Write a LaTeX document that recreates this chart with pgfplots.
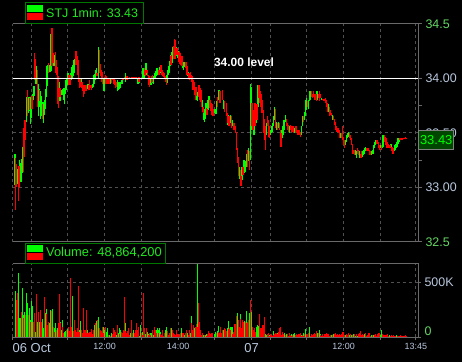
\documentclass[border=0pt]{standalone}
\usepackage{pgfplots}
\pgfplotsset{compat=1.18}
\usepackage{pgfplotstable}
\usepackage{fontspec}
\setmainfont{Liberation Sans}
\definecolor{upg}{RGB}{0,255,0}
\definecolor{dnr}{RGB}{255,0,0}
\definecolor{gridc}{RGB}{80,80,80}
\definecolor{framec}{RGB}{105,105,105}
\definecolor{lblc}{RGB}{185,200,222}
\definecolor{lgrn}{RGB}{100,215,100}
\definecolor{legtxt}{RGB}{30,235,30}
\definecolor{legbrd}{RGB}{0,120,0}
\definecolor{pbox}{RGB}{0,70,0}

% ---------- price bars: minute, low, high ----------
\pgfplotstableread{
m l h
3.8 33.02 33.31
7.8 33.03 33.17
11.3 33.02 33.25
12.4 33.08 33.22
13.5 33.05 33.21
14.6 33.10 33.26
15.7 33.13 33.37
16.8 33.18 33.36
21.1 33.46 33.60
22.2 33.60 33.70
22.7 33.65 33.83
24.9 33.68 33.80
25.9 33.68 33.83
28.1 33.70 33.83
29.2 33.58 33.77
30.2 33.64 33.79
32.4 33.72 33.86
33.5 33.80 33.92
34.6 33.84 33.93
37.8 33.95 34.11
38.9 33.96 34.08
40.0 33.90 34.05
42.1 33.65 33.95
44.3 33.74 33.90
45.4 33.63 33.88
46.5 33.68 33.84
47.6 33.65 33.78
49.7 33.65 33.75
50.8 33.59 33.78
51.9 33.66 33.80
53.0 33.72 33.83
54.1 33.78 33.90
55.1 33.83 34.11
56.2 33.93 34.05
57.3 34.02 34.12
59.5 34.06 34.12
60.5 34.06 34.10
61.6 34.06 34.11
62.7 34.07 34.41
63.8 34.10 34.36
65.4 34.12 34.20
67.6 34.11 34.21
68.6 34.12 34.19
70.8 34.08 34.15
76.2 33.79 33.97
78.4 33.79 33.91
79.5 33.85 33.89
80.6 33.85 33.89
81.7 33.86 33.90
82.7 33.85 33.89
83.8 33.80 33.91
84.9 33.76 33.91
86.0 33.86 33.93
87.1 33.89 33.98
88.2 33.91 34.00
89.2 33.94 34.03
90.3 33.94 34.05
92.5 33.95 34.03
94.6 33.97 34.05
95.7 33.98 34.08
96.8 34.00 34.10
97.9 34.02 34.12
98.9 34.02 34.14
100.0 34.05 34.17
101.1 34.08 34.18
111.9 33.94 34.00
121.6 33.90 33.94
122.7 33.91 33.95
129.2 33.91 33.94
130.3 33.91 33.95
131.4 33.93 33.96
132.4 33.92 34.03
133.5 33.95 34.04
134.6 33.98 34.07
135.7 34.01 34.08
136.8 34.03 34.09
140.0 34.00 34.03
140.5 34.00 34.29
148.1 33.94 34.00
149.2 33.88 34.00
150.3 33.93 33.99
153.5 33.96 33.99
154.6 33.95 34.00
158.9 33.96 34.00
160.0 33.95 34.00
170.5 33.88 33.98
171.6 33.88 33.95
172.6 33.89 33.94
173.7 33.90 33.97
175.0 33.91 33.95
175.9 33.93 33.97
177.5 33.95 33.98
179.0 33.95 33.98
184.5 33.97 34.05
204.5 33.95 34.00
207.2 33.96 34.00
211.6 34.00 34.09
213.0 34.03 34.09
214.3 34.00 34.06
217.5 34.03 34.14
224.6 33.94 34.00
225.6 33.94 34.00
229.0 33.96 34.02
230.0 33.95 34.02
231.0 33.99 34.04
232.1 34.00 34.05
233.2 34.01 34.07
234.3 34.02 34.08
235.4 34.03 34.09
236.4 34.05 34.09
239.7 34.05 34.10
240.8 34.05 34.11
251.6 33.96 34.03
253.2 34.00 34.08
254.3 34.03 34.09
255.3 34.05 34.11
256.4 34.08 34.16
257.5 34.11 34.21
260.2 34.14 34.24
261.3 34.17 34.29
266.7 34.20 34.29
269.4 34.19 34.25
270.5 34.17 34.25
277.5 34.09 34.15
278.6 34.08 34.15
279.7 34.10 34.15
280.7 34.11 34.15
285.6 34.02 34.06
286.7 34.00 34.06
301.0 33.80 33.87
301.8 33.79 33.86
308.8 33.74 33.80
309.9 33.69 33.77
312.4 33.62 33.72
313.2 33.60 33.72
314.3 33.63 33.75
315.3 33.66 33.77
318.6 33.71 33.80
319.7 33.71 33.80
320.5 33.77 33.84
321.3 33.77 33.83
329.0 33.68 33.72
329.9 33.68 33.72
330.8 33.67 33.72
331.6 33.67 33.72
332.7 33.71 33.79
336.5 33.80 33.89
339.7 33.79 33.85
344.1 33.72 33.80
351.6 33.57 33.66
355.4 33.59 33.66
359.2 33.56 33.62
370.0 33.08 33.19
374.3 33.07 33.19
377.6 33.13 33.25
379.2 33.14 33.24
381.3 33.19 33.31
385.1 33.24 33.36
388.4 33.25 33.95
389.5 33.53 33.92
393.8 33.48 33.66
397.0 33.59 33.71
400.3 33.74 33.94
413.8 33.48 33.59
420.3 33.48 33.53
421.9 33.50 33.56
424.0 33.51 33.59
425.7 33.56 33.65
427.3 33.62 33.74
430.5 33.53 33.60
433.8 33.54 33.60
439.7 33.45 33.53
441.3 33.48 33.56
443.0 33.53 33.62
445.1 33.60 33.66
452.2 33.50 33.56
460.3 33.50 33.54
471.6 33.48 33.56
473.2 33.56 33.65
476.5 33.62 33.69
478.1 33.65 33.80
479.7 33.71 33.82
483.0 33.72 33.80
484.6 33.79 33.88
486.2 33.80 33.88
496.8 33.80 33.88
503.6 33.80 33.82
514.9 33.69 33.76
521.9 33.62 33.66
534.9 33.45 33.50
543.0 33.39 33.43
544.6 33.42 33.48
546.3 33.45 33.50
547.9 33.46 33.51
559.2 33.30 33.34
560.9 33.27 33.33
565.7 33.27 33.33
570.6 33.28 33.33
572.2 33.30 33.34
573.8 33.31 33.36
575.5 33.33 33.37
585.2 33.30 33.33
586.8 33.31 33.34
588.4 33.31 33.39
590.0 33.36 33.42
591.7 33.39 33.43
599.8 33.36 33.39
603.0 33.36 33.40
604.6 33.37 33.48
614.4 33.36 33.39
617.6 33.36 33.40
622.5 33.33 33.36
624.1 33.34 33.39
625.7 33.36 33.40
627.3 33.37 33.42
629.0 33.40 33.45
630.6 33.42 33.45
}\pgreen

\pgfplotstableread{
m l h
4.5 32.79 33.27
5.6 33.01 33.21
6.7 33.00 33.19
9.0 32.87 33.16
10.2 33.00 33.20
17.8 33.14 33.54
18.9 33.28 33.50
20.0 33.43 33.62
23.8 33.65 33.89
27.0 33.71 33.82
31.3 33.72 33.84
35.7 33.98 34.23
36.7 34.00 34.18
41.0 33.74 34.08
43.2 33.79 33.89
48.6 33.63 33.76
58.4 34.05 34.14
64.3 34.11 34.46
66.5 34.14 34.23
69.7 34.05 34.24
71.9 34.03 34.17
73.0 34.00 34.10
74.1 33.76 34.02
75.2 33.73 33.95
77.3 33.83 33.91
91.4 33.94 34.03
93.5 33.94 34.03
102.2 34.12 34.24
103.2 34.14 34.25
104.3 34.12 34.22
105.4 34.08 34.20
106.5 34.03 34.17
107.6 33.97 34.06
108.6 33.91 34.00
109.7 33.93 34.00
110.8 33.92 33.98
113.0 33.91 33.97
114.0 33.88 33.97
115.1 33.83 33.94
116.2 33.86 33.93
117.3 33.88 33.94
118.4 33.89 33.94
119.5 33.88 33.93
120.5 33.90 33.94
123.8 33.89 33.94
124.9 33.89 33.98
125.9 33.90 33.96
127.0 33.91 33.94
128.1 33.89 33.94
137.8 34.02 34.05
138.9 34.02 34.04
141.6 34.08 34.26
142.7 34.05 34.13
143.8 34.02 34.09
144.9 34.02 34.08
145.9 33.97 34.05
147.0 33.95 34.06
151.4 33.95 34.03
152.4 33.95 34.02
155.7 33.95 34.00
156.8 33.96 34.00
157.8 33.95 34.00
161.1 33.96 34.00
162.2 33.98 34.00
163.2 33.98 34.00
164.5 33.95 34.00
166.0 33.94 33.99
167.6 33.91 33.98
169.0 33.92 33.97
180.2 33.98 34.00
182.0 33.99 34.01
186.7 33.98 34.02
188.3 33.99 34.00
191.0 34.00 34.01
193.5 34.00 34.01
196.0 34.00 34.01
198.0 34.00 34.01
201.0 34.00 34.01
206.0 33.97 34.01
215.3 34.03 34.09
216.4 34.02 34.08
219.1 34.05 34.08
220.2 34.02 34.06
221.3 33.94 34.03
222.4 33.95 34.01
223.5 33.92 34.02
226.7 33.96 34.02
227.8 33.97 34.03
237.5 34.04 34.08
238.6 34.03 34.08
241.6 34.06 34.12
242.4 34.05 34.12
243.5 34.03 34.08
245.1 34.02 34.06
246.2 34.01 34.05
247.8 34.00 34.05
249.0 33.97 34.02
250.5 33.94 34.00
258.6 34.12 34.20
259.1 34.12 34.21
262.4 34.18 34.30
263.5 34.21 34.36
264.3 34.20 34.35
265.1 34.18 34.35
267.5 34.22 34.28
268.3 34.21 34.28
271.6 34.15 34.24
272.1 34.14 34.25
273.2 34.13 34.23
274.3 34.12 34.23
275.4 34.11 34.20
276.4 34.11 34.20
281.8 34.09 34.14
282.9 34.09 34.15
283.7 34.05 34.11
284.5 34.03 34.11
287.5 33.99 34.05
288.3 33.98 34.05
289.4 34.00 34.05
290.5 34.00 34.06
291.6 33.98 34.03
292.6 33.97 34.02
293.5 33.93 33.99
294.3 33.89 33.98
295.4 33.90 33.97
296.4 33.88 33.97
297.2 33.85 33.92
298.0 33.80 33.92
299.1 33.84 33.92
300.2 33.85 33.92
303.0 33.86 33.93
304.0 33.83 33.94
305.0 33.81 33.91
305.6 33.80 33.91
306.7 33.78 33.90
307.8 33.74 33.89
310.8 33.69 33.74
311.6 33.68 33.72
316.4 33.66 33.73
317.5 33.66 33.72
322.1 33.73 33.80
322.9 33.73 33.80
323.7 33.70 33.77
324.5 33.69 33.77
325.3 33.66 33.75
326.2 33.65 33.76
327.0 33.65 33.72
327.8 33.65 33.72
334.3 33.74 33.83
338.1 33.77 33.88
341.9 33.80 33.89
346.2 33.69 33.79
348.4 33.65 33.77
350.0 33.59 33.68
353.2 33.56 33.65
357.0 33.54 33.65
361.3 33.53 33.59
363.5 33.50 33.56
365.1 33.34 33.51
366.8 33.22 33.36
368.4 33.10 33.28
371.6 33.07 33.16
372.7 33.01 33.10
375.9 33.11 33.19
383.0 33.19 33.34
386.8 33.16 33.33
390.5 33.56 33.77
392.2 33.53 33.71
395.4 33.56 33.77
398.6 33.62 33.76
401.9 33.82 33.94
403.5 33.77 33.88
405.1 33.74 33.86
406.7 33.68 33.80
408.9 33.50 33.71
410.5 33.43 33.63
412.2 33.34 33.56
415.4 33.56 33.65
417.0 33.46 33.62
418.6 33.45 33.56
428.9 33.54 33.72
432.2 33.53 33.59
435.4 33.53 33.59
437.0 33.46 33.53
438.1 33.37 33.50
446.7 33.56 33.63
448.4 33.53 33.59
450.0 33.51 33.57
453.8 33.53 33.57
455.4 33.51 33.56
457.0 33.51 33.56
458.6 33.50 33.56
461.9 33.51 33.56
463.5 33.50 33.56
465.1 33.48 33.53
466.7 33.48 33.53
468.4 33.48 33.53
470.0 33.46 33.51
474.9 33.60 33.65
481.3 33.74 33.79
487.8 33.83 33.88
489.4 33.82 33.86
491.1 33.83 33.88
492.7 33.80 33.86
494.3 33.80 33.86
495.9 33.79 33.86
498.7 33.82 33.86
500.3 33.79 33.88
501.9 33.82 33.86
505.7 33.80 33.81
507.9 33.79 33.81
510.1 33.77 33.82
511.7 33.74 33.80
513.3 33.69 33.77
516.5 33.65 33.74
518.2 33.66 33.71
520.3 33.65 33.68
523.6 33.62 33.65
525.2 33.57 33.63
526.8 33.53 33.60
528.4 33.51 33.56
530.1 33.51 33.54
531.7 33.50 33.54
533.3 33.45 33.53
536.5 33.45 33.50
538.2 33.43 33.56
539.8 33.39 33.46
541.4 33.36 33.43
549.5 33.45 33.50
551.1 33.43 33.48
552.8 33.39 33.45
554.4 33.31 33.40
556.0 33.31 33.34
557.6 33.30 33.34
562.5 33.31 33.36
564.1 33.30 33.34
567.3 33.27 33.31
569.0 33.27 33.33
577.1 33.33 33.36
578.7 33.33 33.36
580.3 33.33 33.36
581.9 33.30 33.34
583.6 33.30 33.33
593.3 33.40 33.43
594.9 33.40 33.43
596.5 33.36 33.42
598.2 33.34 33.39
601.4 33.34 33.39
606.3 33.42 33.48
607.9 33.40 33.46
609.5 33.39 33.45
611.1 33.36 33.42
612.7 33.36 33.40
616.0 33.36 33.39
619.2 33.33 33.37
620.9 33.31 33.36
632.2 33.43 33.45
634.4 33.43 33.45
636.5 33.43 33.45
638.7 33.44 33.45
640.9 33.44 33.46
643.0 33.44 33.45
}\pred

% ---------- volume (thousands) ----------
\pgfplotstableread{
m v
4.3 421
9.2 589
10.3 171
11.4 162
12.4 171
14.6 140
15.7 451
16.8 201
18.9 226
20.0 125
22.2 125
23.2 400
24.3 314
27.6 262
28.6 156
30.8 329
31.9 284
33.0 192
35.1 140
37.3 49
40.5 140
41.6 217
43.8 140
44.9 34
48.1 162
49.2 146
50.3 79
53.5 217
54.6 253
60.0 131
61.1 27
62.2 247
64.3 253
65.4 253
68.6 79
69.7 125
73.0 79
78.4 140
79.5 64
80.5 156
83.8 49
84.9 49
85.9 58
89.2 70
94.6 201
96.7 375
97.8 101
102.2 49
107.6 40
109.7 64
110.8 146
118.4 27
122.7 64
125.9 18
133.5 110
136.7 146
138.9 140
140.0 186
147.6 95
149.7 64
153.0 49
154.0 79
155.1 70
157.3 18
158.4 18
160.5 18
161.6 34
169.2 18
172.4 40
173.5 79
175.7 64
180.0 18
183.2 125
187.5 49
191.9 34
196.2 18
197.3 64
207.0 9
208.1 95
209.2 110
212.4 49
216.7 27
220.0 49
222.1 27
224.3 34
226.5 40
229.7 18
231.9 79
235.1 64
236.2 79
238.4 64
239.4 86
241.6 49
248.1 18
249.2 64
250.3 95
251.3 95
253.5 18
256.7 18
258.9 79
260.0 55
266.5 9
275.1 27
276.2 79
280.5 18
284.8 27
285.9 40
290.3 34
292.4 192
296.7 79
301.6 674
307.0 27
309.2 18
311.3 18
313.5 18
314.6 18
316.7 27
323.2 27
326.5 40
330.0 27
331.1 49
333.2 27
334.3 58
336.5 101
341.9 58
344.1 64
345.1 64
348.4 40
350.5 79
351.6 146
355.9 88
357.0 88
358.1 88
366.8 217
367.8 156
372.2 210
375.4 156
377.6 134
378.6 146
380.8 241
386.2 217
388.4 247
389.4 232
397.0 27
398.1 95
399.2 110
400.3 101
401.4 95
412.2 27
413.2 18
414.3 18
416.5 18
418.6 18
423.0 18
426.2 58
432.7 40
438.1 18
441.4 18
443.5 34
446.8 27
455.4 27
457.6 27
458.6 27
459.7 40
471.6 18
473.8 40
477.0 18
478.1 70
483.5 9
484.6 88
490.0 18
497.6 40
498.6 27
500.8 64
501.9 27
519.2 9
520.3 18
523.5 27
527.8 9
532.2 9
540.8 18
543.0 18
545.1 9
549.4 18
552.7 18
555.9 27
559.2 9
562.4 9
570.0 9
574.3 27
578.6 18
583.0 18
585.1 18
586.2 9
588.4 18
589.4 9
600.3 18
601.4 18
602.4 64
614.3 18
615.4 18
617.6 9
621.9 9
625.1 9
626.2 18
634.9 9
638.1 9
640.3 9
}\vgreen

\pgfplotstableread{
m v
5.4 339
6.5 278
7.6 400
13.5 232
17.8 171
21.1 201
25.4 201
26.5 156
29.7 140
34.1 140
36.2 217
38.4 156
39.5 393
42.7 232
45.9 247
47.0 140
51.3 363
52.4 201
55.7 210
56.8 110
57.8 95
58.9 140
63.2 241
66.5 95
67.6 49
70.8 64
71.9 64
74.0 79
75.1 125
76.2 393
77.3 125
81.6 95
82.7 34
87.0 64
88.1 64
90.3 79
91.3 95
92.4 58
93.5 537
95.7 95
98.9 58
100.0 64
101.1 156
103.2 64
104.3 49
105.4 79
106.5 467
108.6 49
111.9 40
113.0 64
114.0 34
115.1 64
116.2 268
117.3 64
119.5 64
120.5 247
121.6 34
123.8 34
124.9 49
127.0 49
128.1 64
129.2 70
130.3 27
131.3 40
132.4 64
134.6 40
135.7 125
137.8 156
141.1 79
142.2 49
143.2 64
144.3 58
145.4 49
146.5 95
148.6 40
150.8 34
151.9 88
156.2 18
159.4 9
162.7 27
163.8 18
164.8 79
165.9 64
167.0 27
168.1 49
170.3 64
171.3 110
174.6 27
176.7 18
177.8 49
178.9 34
181.1 64
182.1 369
184.3 55
185.4 34
186.5 58
188.6 79
189.7 64
190.8 18
193.0 156
194.0 18
195.1 34
198.4 9
199.4 34
200.5 64
201.6 131
202.7 27
203.8 64
204.8 95
205.9 34
210.3 34
211.3 18
213.5 406
214.6 79
215.7 34
217.8 79
218.9 49
221.1 18
223.2 40
225.4 18
227.5 27
228.6 64
230.8 95
233.0 64
234.0 34
237.3 40
240.5 27
242.7 18
243.8 64
244.8 27
245.9 9
247.0 34
252.4 58
254.6 18
255.7 34
257.8 79
261.1 64
262.1 40
263.2 27
264.3 27
265.4 18
267.5 64
268.6 27
269.7 18
270.8 18
271.9 27
273.0 40
274.0 9
277.3 34
278.4 34
279.4 18
281.6 27
282.7 40
283.8 64
287.0 18
288.1 49
289.2 64
291.3 125
293.5 64
294.6 110
295.7 34
297.8 95
298.9 64
300.0 116
301.1 95
302.7 308
303.8 79
304.8 140
305.9 64
308.1 18
310.3 34
312.4 18
315.7 9
317.8 27
318.9 40
320.0 55
321.1 34
322.1 27
324.3 34
325.4 40
332.2 34
335.4 49
337.6 34
338.6 88
339.7 79
340.8 40
343.0 64
346.2 79
347.3 70
349.5 58
352.7 70
353.8 79
354.9 64
359.2 27
360.3 49
361.4 27
362.4 119
363.5 119
364.6 119
365.7 192
368.9 156
370.0 88
371.1 162
373.2 79
374.3 156
376.5 140
379.7 140
381.9 131
383.0 140
384.0 146
385.1 156
387.3 339
390.5 95
391.6 79
392.7 64
393.8 79
394.9 70
395.9 49
402.4 79
403.5 210
404.6 79
405.7 79
406.8 79
407.8 110
408.9 110
410.0 110
411.1 180
415.4 27
417.6 40
419.7 9
420.8 18
421.9 27
424.0 9
425.1 18
427.3 27
428.4 18
429.4 34
430.5 34
431.6 27
433.8 49
434.9 58
435.9 79
437.0 88
439.2 18
440.3 49
442.4 27
444.6 18
445.7 9
447.8 18
448.9 27
450.0 9
451.1 18
452.2 40
453.2 18
454.3 9
456.5 18
460.8 18
461.9 9
463.0 27
464.0 18
465.1 18
466.2 27
467.3 18
468.4 27
469.4 34
470.5 9
472.7 18
474.9 9
475.9 27
479.2 18
480.3 9
481.4 27
482.4 34
485.7 9
486.8 27
487.8 18
488.9 18
491.1 27
492.2 34
493.2 40
494.3 27
495.4 49
496.5 58
499.7 40
503.0 18
504.0 9
505.1 18
506.2 27
507.3 9
508.4 18
509.4 27
510.5 27
511.6 40
512.7 27
513.8 27
514.9 27
515.9 18
517.0 9
518.1 18
521.4 18
522.4 18
524.6 18
525.7 27
526.8 34
528.9 18
530.0 27
531.1 18
533.2 27
534.3 18
535.4 9
536.5 27
537.6 49
538.6 40
539.7 49
541.9 18
544.0 27
546.2 18
547.3 34
548.4 18
550.5 18
551.6 27
553.8 18
554.9 9
557.0 18
558.1 27
560.3 27
561.4 18
563.5 27
564.6 18
565.7 40
566.8 58
567.8 27
568.9 18
571.1 27
572.2 18
573.2 9
575.4 40
576.5 27
577.6 9
579.7 18
580.8 34
581.9 40
584.0 9
587.3 18
590.5 18
591.6 27
592.7 18
593.8 9
594.9 18
595.9 27
597.0 34
598.1 40
599.2 18
603.5 27
604.6 18
605.7 9
606.8 18
607.8 9
608.9 18
610.0 18
611.1 9
612.2 27
613.2 9
616.5 9
618.6 18
619.7 9
620.8 18
623.0 9
624.0 9
627.3 9
628.4 9
629.4 9
630.5 9
631.6 9
632.7 18
633.8 9
635.9 9
637.0 9
639.2 9
641.4 15
642.4 9
}\vred

\begin{document}
\begin{tikzpicture}[x=1bp,y=1bp]
\fill[black] (0,0) rectangle (462,362);
\path[use as bounding box] (0,0) rectangle (462,362);

% ---------------- price panel ----------------
\begin{axis}[
  at={(12.7bp,120.2bp)}, anchor=south west,
  width=405.3bp, height=218bp, scale only axis,
  xmin=0, xmax=661.5, ymin=32.5, ymax=34.5,
  clip mode=individual,
  axis line style={draw=none},
  xtick={0,30,90,150,210,270,330,390,420,480,540,600,658},
  xticklabel={},
  xticklabel style={inner sep=0pt, font=\fontsize{1}{1}\selectfont, yshift=40bp},
  major x tick style={draw=none},
  xmajorgrids,
  ytick={32.5,33,33.5,34,34.5},
  yticklabels={\textcolor{lgrn}{32.5},33.00,33.50,34.00,\textcolor{lgrn}{34.5}},
  minor ytick={33.25,33.75},
  ytick pos=right, yticklabel pos=right,
  tick align=outside,
  major tick length=4bp, minor tick length=4bp,
  tick style={framec, line width=0.8bp},
  yticklabel style={font=\fontsize{12.5}{13}\selectfont, text=lblc, anchor=west},
  ymajorgrids,
  major grid style={gridc, dash pattern=on 3bp off 3bp, line width=0.8bp},
]
\addplot[upg, line width=1.3bp, quiver={u=0, v=\thisrow{h}-\thisrow{l}}] table[x=m, y=l] {\pgreen};
\addplot[dnr, line width=1.3bp, quiver={u=0, v=\thisrow{h}-\thisrow{l}}] table[x=m, y=l] {\pred};
\addplot[white, line width=1.3bp] coordinates {(0,34) (661.5,34)};
\draw[framec, line width=1bp] (rel axis cs:0,1) -- (rel axis cs:1,1) -- (rel axis cs:1,0) -- (rel axis cs:0,0);
\end{axis}

% ---------------- volume panel ----------------
\begin{axis}[
  at={(12.7bp,25bp)}, anchor=south west,
  width=405.3bp, height=73bp, scale only axis,
  xmin=0, xmax=661.5, ymin=0, ymax=667,
  clip mode=individual,
  axis line style={draw=none},
  xtick={0,30,90,150,210,270,330,390,420,480,540,600,658},
  xticklabels={\rlap{\fontsize{13}{13}\selectfont 06 Oct},,,12:00,,14:00,,{\fontsize{13}{13}\selectfont 07},,,12:00,,13:45},
  xtick pos=bottom,
  ytick={500}, yticklabels={500K},
  extra y ticks={0}, extra y tick labels={0},
  extra y tick style={yticklabel style={yshift=6bp, text=lgrn}, ymajorgrids=false},
  ytick pos=right, yticklabel pos=right,
  tick align=outside,
  major tick length=3bp,
  tick style={framec, line width=0.8bp},
  yticklabel style={font=\fontsize{12.5}{13}\selectfont, text=lblc, anchor=west},
  xticklabel style={font=\fontsize{9}{10}\selectfont, text=lblc, anchor=north},
  xmajorgrids, ymajorgrids,
  major grid style={gridc, dash pattern=on 3bp off 3bp, line width=0.8bp},
]
\addplot[upg, ycomb, line width=0.9bp] table[x=m, y=v] {\vgreen};
\addplot[dnr, ycomb, line width=0.9bp] table[x=m, y=v] {\vred};
\draw[framec, line width=1bp] (rel axis cs:0,1) -- (rel axis cs:1,1) -- (rel axis cs:1,0) -- (rel axis cs:0,0);
\end{axis}

% ---------------- legends and labels ----------------
\draw[legbrd, line width=1bp, fill=black] (25,339) rectangle (143,359);
\fill[upg] (27,350) rectangle (43,357);
\fill[dnr] (27,342) rectangle (43,349);
\node[anchor=west, inner sep=0, text=legtxt, font=\fontsize{12.5}{13}\selectfont] at (46,349) {STJ 1min: 33.43};

\draw[legbrd, line width=1bp, fill=black] (25,99) rectangle (165,119);
\fill[upg] (27,110) rectangle (43,117);
\fill[dnr] (27,102) rectangle (43,109);
\node[anchor=west, inner sep=0, text=legtxt, font=\fontsize{12.9}{13}\selectfont] at (46,109) {Volume: 48,864,200};

\node[text=white, font=\bfseries\fontsize{12}{13}\selectfont, inner sep=0] at (244,300) {34.00 level};

\node[draw=gray, line width=1bp, fill=pbox, text=upg, font=\fontsize{13}{14}\selectfont,
      inner xsep=1.5bp, inner ysep=0bp, minimum height=19bp, anchor=west] at (418,222) {33.43};
\end{tikzpicture}
\end{document}
